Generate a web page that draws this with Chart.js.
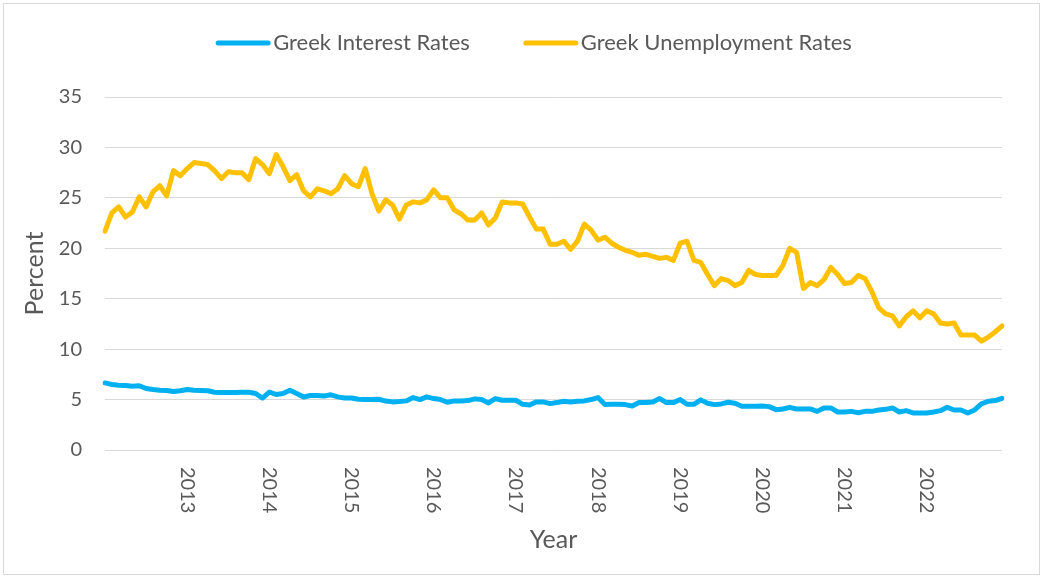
<!DOCTYPE html>
<html>
<head>
<meta charset="utf-8">
<script src="https://cdn.jsdelivr.net/npm/chart.js@4"></script>
<style>
  html, body { margin: 0; padding: 0; background: #fff; }
  #wrap { width: 1044px; height: 578px; position: relative; }
</style>
</head>
<body>
<div id="wrap"><canvas id="chart"></canvas></div>
<script>
// monthly data, Jan 2012 - Dec 2022
const years = [2012, 2013, 2014, 2015, 2016, 2017, 2018, 2019, 2020, 2021, 2022];
const months = ["01", "02", "03", "04", "05", "06", "07", "08", "09", "10", "11", "12"];
const tickYears = ["2013", "2014", "2015", "2016", "2017", "2018", "2019", "2020", "2021", "2022"];

const interestRates = [
  6.65, 6.5, 6.43, 6.4, 6.33, 6.37, 6.1, 6.0, 5.93, 5.9, 5.8, 5.87,
  6.0, 5.93, 5.9, 5.87, 5.73, 5.7, 5.7, 5.7, 5.73, 5.73, 5.6, 5.15,
  5.75, 5.5, 5.6, 5.93, 5.6, 5.25, 5.4, 5.4, 5.35, 5.47, 5.27, 5.15,
  5.15, 5.03, 5.0, 5.0, 5.03, 4.85, 4.77, 4.8, 4.87, 5.2, 5.0, 5.27,
  5.1, 5.0, 4.73, 4.87, 4.87, 4.9, 5.07, 5.0, 4.67, 5.1, 4.93, 4.93,
  4.93, 4.53, 4.47, 4.77, 4.77, 4.6, 4.7, 4.83, 4.77, 4.83, 4.87, 5.0,
  5.2, 4.5, 4.53, 4.53, 4.5, 4.37, 4.7, 4.7, 4.77, 5.1, 4.7, 4.7,
  5.0, 4.53, 4.53, 4.97, 4.63, 4.5, 4.57, 4.73, 4.63, 4.33, 4.33, 4.33,
  4.37, 4.3, 4.0, 4.07, 4.23, 4.07, 4.07, 4.07, 3.83, 4.17, 4.17, 3.77,
  3.77, 3.83, 3.7, 3.83, 3.83, 3.97, 4.03, 4.17, 3.77, 3.9, 3.67, 3.67,
  3.67, 3.77, 3.9, 4.23, 3.97, 3.97, 3.67, 3.97, 4.57, 4.83, 4.9, 5.13
];

const unemploymentRates = [
  21.7, 23.5, 24.1, 23.1, 23.6, 25.1, 24.1, 25.6, 26.2, 25.2, 27.7, 27.2,
  27.9, 28.5, 28.4, 28.3, 27.7, 26.9, 27.6, 27.5, 27.5, 26.8, 28.9, 28.3,
  27.4, 29.3, 28.1, 26.7, 27.3, 25.7, 25.1, 25.9, 25.7, 25.4, 25.9, 27.2,
  26.4, 26.1, 27.9, 25.4, 23.7, 24.8, 24.3, 22.9, 24.3, 24.6, 24.5, 24.8,
  25.8, 25.0, 25.0, 23.8, 23.4, 22.8, 22.8, 23.5, 22.3, 23.0, 24.6, 24.5,
  24.5, 24.4, 23.1, 21.9, 21.9, 20.4, 20.4, 20.7, 19.9, 20.7, 22.4, 21.8,
  20.8, 21.1, 20.5, 20.1, 19.8, 19.6, 19.3, 19.4, 19.2, 19.0, 19.1, 18.8,
  20.5, 20.7, 18.8, 18.6, 17.4, 16.3, 17.0, 16.8, 16.3, 16.6, 17.8, 17.4,
  17.3, 17.3, 17.3, 18.3, 20.0, 19.6, 16.0, 16.6, 16.3, 16.9, 18.1, 17.4,
  16.5, 16.6, 17.3, 17.0, 15.7, 14.1, 13.5, 13.3, 12.3, 13.2, 13.8, 13.1,
  13.8, 13.5, 12.6, 12.5, 12.6, 11.4, 11.4, 11.4, 10.8, 11.2, 11.7, 12.3
];

const labels = [];
years.forEach((y) => months.forEach((m) => labels.push(y + "-" + m)));

const textColor = "#595959";
const fontFamily = "Lato, 'Open Sans', sans-serif";

// outer frame like the Excel chart area
const framePlugin = {
  id: "frame",
  beforeDraw(chart) {
    const ctx = chart.ctx;
    ctx.save();
    ctx.fillStyle = "#fff";
    ctx.fillRect(0, 0, chart.width, chart.height);
    ctx.strokeStyle = "#d9d9d9";
    ctx.lineWidth = 1;
    ctx.strokeRect(3.5, 3.5, chart.width - 8, chart.height - 7);
    ctx.restore();
  }
};

// year labels under the axis, turned clockwise
const yearTicksPlugin = {
  id: "yearTicks",
  afterDraw(chart) {
    const ctx = chart.ctx;
    const xs = chart.scales.x;
    ctx.save();
    ctx.fillStyle = textColor;
    ctx.font = "20px " + fontFamily;
    ctx.textAlign = "left";
    ctx.textBaseline = "middle";
    tickYears.forEach((yr) => {
      const x = xs.getPixelForValue(labels.indexOf(yr + "-01"));
      ctx.save();
      ctx.translate(x, xs.top + 17);
      ctx.rotate(Math.PI / 2);
      ctx.fillText(yr, 0, 0);
      ctx.restore();
    });
    ctx.restore();
  }
};

// legend with line samples
const lineLegendPlugin = {
  id: "lineLegend",
  afterDraw(chart) {
    const ctx = chart.ctx;
    const sets = chart.data.datasets;
    ctx.save();
    ctx.font = "22px " + fontFamily;
    const sample = 54, gapText = 3, gapItem = 54;
    let total = 0;
    sets.forEach((ds, i) => {
      total += sample + gapText + ctx.measureText(ds.label).width;
      if (i > 0) total += gapItem;
    });
    let x = 534 - total / 2;
    const y = 43;
    sets.forEach((ds) => {
      ctx.strokeStyle = ds.borderColor;
      ctx.lineWidth = 5;
      ctx.lineCap = "round";
      ctx.beginPath();
      ctx.moveTo(x + 2, y);
      ctx.lineTo(x + sample - 2, y);
      ctx.stroke();
      ctx.fillStyle = textColor;
      ctx.textAlign = "left";
      ctx.textBaseline = "middle";
      ctx.fillText(ds.label, x + sample + gapText, y);
      x += sample + gapText + ctx.measureText(ds.label).width + gapItem;
    });
    ctx.restore();
  }
};

new Chart(document.getElementById("chart"), {
  type: "line",
  data: {
    labels: labels,
    datasets: [
      {
        label: "Greek Interest Rates",
        data: interestRates,
        borderColor: "#00b0f0",
        backgroundColor: "#00b0f0",
        borderWidth: 5,
        pointRadius: 0,
        borderJoinStyle: "round",
        borderCapStyle: "round",
        tension: 0
      },
      {
        label: "Greek Unemployment Rates",
        data: unemploymentRates,
        borderColor: "#ffc000",
        backgroundColor: "#ffc000",
        borderWidth: 5,
        pointRadius: 0,
        borderJoinStyle: "round",
        borderCapStyle: "round",
        tension: 0
      }
    ]
  },
  options: {
    responsive: true,
    maintainAspectRatio: false,
    animation: false,
    layout: { padding: { left: 0, right: 42, top: 97, bottom: 0 } },
    plugins: {
      legend: { display: false },
      tooltip: { enabled: false }
    },
    scales: {
      x: {
        type: "category",
        offset: false,
        grid: { display: false },
        border: { display: false },
        ticks: { display: false },
        title: {
          display: true,
          text: "Year",
          color: textColor,
          font: { family: fontFamily, size: 25 },
          padding: { top: 0, bottom: 23 }
        },
        afterFit(scale) { scale.height = 128; }
      },
      y: {
        min: 0,
        max: 35,
        ticks: {
          stepSize: 5,
          color: textColor,
          padding: 23,
          font: { family: fontFamily, size: 20 }
        },
        grid: { color: "#d9d9d9", lineWidth: 1, drawTicks: false },
        border: { display: false },
        title: {
          display: true,
          text: "Percent",
          color: textColor,
          font: { family: fontFamily, size: 25 },
          padding: { top: 20, bottom: 0 }
        },
        afterFit(scale) { scale.width = 105; }
      }
    }
  },
  plugins: [framePlugin, yearTicksPlugin, lineLegendPlugin]
});
</script>
</body>
</html>
